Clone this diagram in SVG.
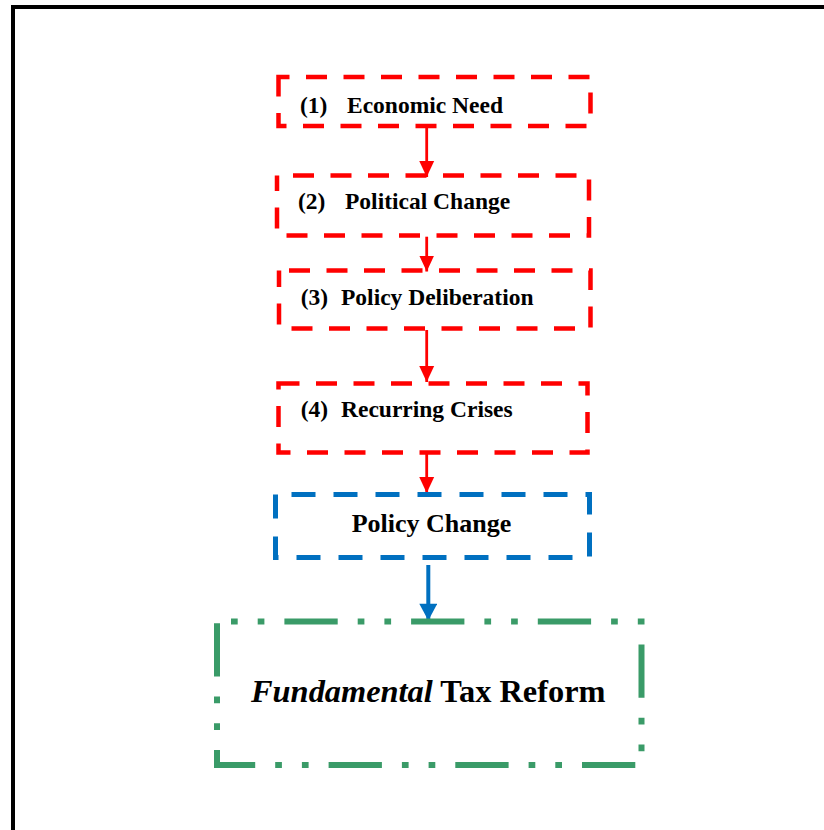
<svg xmlns="http://www.w3.org/2000/svg" width="824" height="830" viewBox="0 0 824 830">
<style>
  .red { fill: none; stroke: #FF0000; stroke-width: 4.5; stroke-dasharray: 21 16.5; }
  .blue { fill: none; stroke: #0070C0; stroke-width: 5; stroke-dasharray: 24 18; }
  .green { fill: none; stroke: #3A9B68; stroke-width: 6; stroke-dasharray: 53.3 20 6.7 20 6.7 20; stroke-dashoffset: 59.3; }
  .lbl { font-family: "Liberation Serif", "Times New Roman", serif; font-weight: bold; fill: #000; }
  .s { font-size: 23.5px; }
  .m { font-size: 26px; }
  .l { font-size: 32.4px; }
  .rline { stroke: #FF0000; stroke-width: 2.8; fill: none; }
  .bline { stroke: #0070C0; stroke-width: 4; fill: none; }
</style>
<defs>
  <marker id="ahr" markerUnits="userSpaceOnUse" markerWidth="16" markerHeight="16" viewBox="0 0 15 14" refX="15" refY="7" orient="auto">
    <path d="M0,0 L15,7 L0,14 Z" fill="#FF0000"/>
  </marker>
  <marker id="ahb" markerUnits="userSpaceOnUse" markerWidth="18" markerHeight="18" viewBox="0 0 15 16" refX="15" refY="8" orient="auto">
    <path d="M0,0 L15,8 L0,16 Z" fill="#0070C0"/>
  </marker>
</defs>
<rect width="824" height="830" fill="#fff"/>
<rect x="13" y="7" width="830" height="840" fill="none" stroke="#000" stroke-width="4"/>

<g id="connectors">
  <line class="rline" x1="426.7" y1="128" x2="426.7" y2="177" marker-end="url(#ahr)"/>
  <line class="rline" x1="426.7" y1="236.7" x2="426.7" y2="271.5" marker-end="url(#ahr)"/>
  <line class="rline" x1="426.7" y1="330" x2="426.7" y2="382" marker-end="url(#ahr)"/>
  <line class="rline" x1="426.7" y1="453" x2="426.7" y2="493" marker-end="url(#ahr)"/>
  <line class="bline" x1="428.3" y1="565" x2="428.3" y2="620.5" marker-end="url(#ahb)"/>
</g>

<g id="n1">
  <rect class="red" x="278.5" y="77" width="312" height="49" style="stroke-dashoffset:10"/>
  <text class="lbl s" x="300" y="112.7">(1) <tspan x="347">Economic Need</tspan></text>
</g>
<g id="n2">
  <rect class="red" x="277" y="175.5" width="312" height="60" style="stroke-dashoffset:21.5"/>
  <text class="lbl s" x="298" y="209.3">(2) <tspan x="345">Political Change</tspan></text>
</g>
<g id="n3">
  <rect class="red" x="279" y="270.5" width="311.5" height="58" style="stroke-dashoffset:27.5"/>
  <text class="lbl s" x="300.7" y="305">(3) <tspan x="341">Policy Deliberation</tspan></text>
</g>
<g id="n4">
  <rect class="red" x="278.5" y="383.5" width="309" height="69" style="stroke-dashoffset:0"/>
  <text class="lbl s" x="300.7" y="416.7">(4) <tspan x="341">Recurring Crises</tspan></text>
</g>
<g id="n5">
  <rect class="blue" x="275.5" y="494.5" width="314" height="63" style="stroke-dashoffset:26"/>
  <text class="lbl m" x="351.7" y="531.7">Policy Change</text>
</g>
<g id="n6">
  <rect class="green" x="217" y="621.5" width="424.5" height="143.5"/>
  <text class="lbl l" x="251" y="701.7"><tspan font-style="italic">Fundamental</tspan> Tax Reform</text>
</g>
</svg>
